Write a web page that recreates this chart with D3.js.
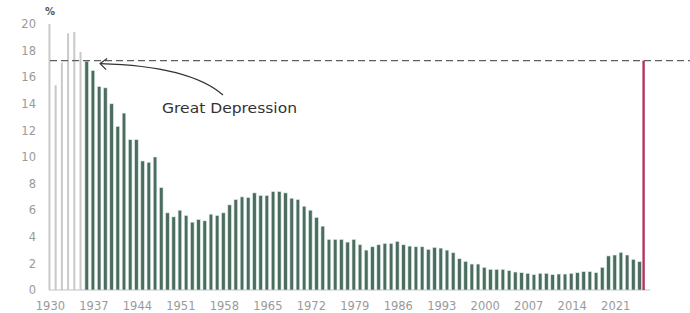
<!DOCTYPE html>
<html>
<head>
<meta charset="utf-8">
<script src="https://cdn.jsdelivr.net/npm/d3@7"></script>
<style>
body{margin:0;background:#fff;}
svg{display:block;font-family:"DejaVu Sans",sans-serif;}
</style>
</head>
<body>
<svg id="chart" width="690" height="313"></svg>
<script>
// years 1930 -> 2025
var years = d3.range(1930, 2026);
var values = [20.0,15.4,17.1,19.3,19.4,17.9,17.2,16.5,15.3,15.2,
              14.0,12.3,13.3,11.3,11.3,9.7,9.6,10.0,7.7,5.8,
              5.5,6.0,5.6,5.1,5.3,5.2,5.7,5.6,5.8,6.4,
              6.8,7.0,6.95,7.3,7.1,7.1,7.4,7.4,7.3,6.9,
              6.8,6.3,6.0,5.45,4.8,3.8,3.8,3.8,3.6,3.8,
              3.4,3.0,3.25,3.4,3.5,3.5,3.65,3.4,3.3,3.25,
              3.25,3.05,3.2,3.15,3.0,2.8,2.35,2.15,1.95,1.95,
              1.7,1.55,1.55,1.55,1.45,1.35,1.3,1.25,1.15,1.25,
              1.25,1.15,1.2,1.2,1.25,1.3,1.38,1.38,1.3,1.7,
              2.56,2.63,2.83,2.63,2.3,2.13];
var lightYears = [1930,1931,1932,1933,1934,1935];
var yTicks = [0,2,4,6,8,10,12,14,16,18,20];
var xTickYears = [1930,1937,1944,1951,1958,1965,1972,1979,1986,1993,2000,2007,2014,2021];
var refLevel = 17.25;
var annotation = "Great Depression";

var svg = d3.select("#chart");

var x = d3.scaleBand().domain(years).range([46.4, 642.6]).paddingInner(0.42).paddingOuter(0.2);
var y = d3.scaleLinear().domain([0, 20]).range([290, 24]);

var data = years.map(function(yr, i){ return {year: yr, value: values[i]}; });
var isLight = function(d){ return lightYears.includes(d.year); };

// baseline
svg.append("line").attr("x1", 49).attr("x2", 650).attr("y1", y(0)).attr("y2", y(0))
    .style("stroke", "#c4c4c4").style("stroke-width", 1.2);

// bars (the early years are drawn as thin pale bars)
svg.append("g").selectAll("rect").data(data).enter().append("rect")
    .attr("x", function(d){ return isLight(d) ? x(d.year) + x.bandwidth()/2 - 1 : x(d.year); })
    .attr("y", function(d){ return y(d.value); })
    .attr("width", function(d){ return isLight(d) ? 2 : x.bandwidth(); })
    .attr("height", function(d){ return y(0) - y(d.value); })
    .style("fill", function(d){ return isLight(d) ? "#c9c9c9" : "#4c6c60"; })
    .style("stroke", function(d){ return isLight(d) ? "none" : "#d6ece3"; })
    .style("stroke-width", 0.6);

// y labels
svg.append("g").selectAll("text").data(yTicks).enter().append("text")
    .attr("x", 36).attr("y", function(d){ return y(d); }).attr("dy", "0.36em")
    .attr("text-anchor", "end").style("font-size", "11.5px").style("fill", "#9a9a9a")
    .text(function(d){ return d; });

svg.append("text").attr("x", 45).attr("y", 15).style("font-size", "10px").style("font-weight", "bold")
    .style("fill", "#555").text("%");

// x labels
svg.append("g").selectAll("text").data(xTickYears).enter().append("text")
    .attr("x", function(d){ return x(d) + x.bandwidth()/2 + 1; }).attr("y", 310)
    .attr("text-anchor", "middle").style("font-size", "11.5px").style("fill", "#9a9a9a")
    .text(function(d){ return d; });

// reference dashed line
svg.append("line").attr("x1", 50).attr("x2", 690).attr("y1", y(refLevel)).attr("y2", y(refLevel))
    .style("stroke", "#5f5f5f").style("stroke-width", 1.4).style("stroke-dasharray", "7,4");

// red marker
var xEnd = x.range()[1] + 1;
svg.append("line").attr("x1", xEnd).attr("x2", xEnd).attr("y1", y(refLevel)).attr("y2", y(0))
    .style("stroke", "#b4345f").style("stroke-width", 2.4);

// annotation arrow
var tip = [x(1937) + 9, y(refLevel) + 3];
svg.append("path")
    .attr("d", "M223,95 Q190,66 " + tip[0] + "," + tip[1])
    .style("fill", "none").style("stroke", "#333").style("stroke-width", 1.2);
svg.append("path")
    .attr("d", "M" + (tip[0]+7) + "," + (tip[1]-5) + " L" + tip[0] + "," + tip[1] + " L" + (tip[0]+6) + "," + (tip[1]+6))
    .style("fill", "none").style("stroke", "#333").style("stroke-width", 1.2);

svg.append("text").attr("x", 162).attr("y", 113).style("font-size", "14px").style("font-weight", "500")
    .attr("textLength", 135).attr("lengthAdjust", "spacingAndGlyphs")
    .style("fill", "#333").text(annotation);
</script>
</body>
</html>
